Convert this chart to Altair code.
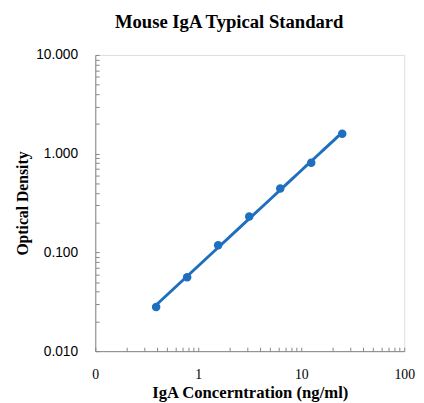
import altair as alt
import pandas as pd

# Data
conc = [0.39, 0.78, 1.56, 3.125, 6.25, 12.5, 25]
od = [0.028, 0.056, 0.118, 0.231, 0.443, 0.81, 1.59]

x_ticks = [0.1, 0.2, 0.3, 0.4, 0.5, 0.6, 0.7, 0.8, 0.9,
           1, 2, 3, 4, 5, 6, 7, 8, 9,
           10, 20, 30, 40, 50, 60, 70, 80, 90, 100]
y_ticks = [0.01, 0.02, 0.03, 0.04, 0.05, 0.06, 0.07, 0.08, 0.09,
           0.1, 0.2, 0.3, 0.4, 0.5, 0.6, 0.7, 0.8, 0.9,
           1, 2, 3, 4, 5, 6, 7, 8, 9, 10]
x_major = [0.1, 1, 10, 100]
x_major_text = ["0", "1", "10", "100"]
y_major = [0.01, 0.1, 1, 10]

df = pd.DataFrame({"conc": conc, "od": od})

blue = "#1f6fbf"
axis_gray = "#868686"
serif = "Liberation Serif"
sans = "Liberation Sans"

xscale = alt.Scale(type="log", domain=[0.1, 100])
yscale = alt.Scale(type="log", domain=[0.01, 10])

x_label_expr = " : ".join(
    f"datum.value == {v} ? '{t}'" for v, t in zip(x_major, x_major_text)
) + " : ''"
y_label_expr = (
    "indexof([" + ",".join(str(v) for v in y_major) + "], datum.value) >= 0 ? "
    "format(datum.value, '.3f') : ''"
)

base = alt.Chart(df)

# Layer with tick/label axes (ticks drawn inward via negative offset)
points = base.mark_circle(size=75, color=blue, opacity=1).encode(
    x=alt.X(
        "conc:Q",
        scale=xscale,
        axis=alt.Axis(
            orient="bottom", values=x_ticks, labelExpr=x_label_expr,
            domain=False, offset=-4, tickSize=4, tickColor=axis_gray,
            grid=False, title=None, labelPadding=17, labelFont=serif,
            labelFontSize=14, labelColor="#000", labelOverlap=False,
            labelFlush=False,
        ),
    ),
    y=alt.Y(
        "od:Q",
        scale=yscale,
        axis=alt.Axis(
            orient="left", values=y_ticks, labelExpr=y_label_expr,
            domain=False, offset=-4, tickSize=4, tickColor=axis_gray,
            grid=False, title=None, labelPadding=18, labelFont=sans,
            labelFontSize=14, labelColor="#000", labelOverlap=False,
            labelFlush=False,
        ),
    ),
)

# Power-law trend line with domain-only axes and titles
line = base.transform_regression(
    "conc", "od", method="pow"
).mark_line(color=blue, strokeWidth=3).encode(
    x=alt.X(
        "conc:Q",
        scale=xscale,
        axis=alt.Axis(
            orient="bottom", domain=True, domainColor=axis_gray, ticks=False,
            labels=False, grid=False, title="IgA Concerntration (ng/ml)",
            titleFont=serif, titleFontSize=17, titleFontWeight="bold",
            titleColor="#000", titlePadding=34,
        ),
    ),
    y=alt.Y(
        "od:Q",
        scale=yscale,
        axis=alt.Axis(
            orient="left", domain=True, domainColor=axis_gray, ticks=False,
            labels=False, grid=False, title="Optical Density",
            titleFont=serif, titleFontSize=16, titleFontWeight="bold",
            titleColor="#000", titlePadding=66,
        ),
    ),
)

chart = alt.layer(line, points).resolve_axis(
    x="independent", y="independent"
).properties(
    width=315,
    height=302,
    autosize=alt.AutoSizeParams(type="none"),
    padding={"left": 89, "top": 44, "right": 12, "bottom": 49},
    title=alt.TitleParams(
        "Mouse IgA Typical Standard", font=serif, fontSize=19,
        fontWeight="bold", color="#000", anchor="middle", dx=-21,
        offset=16,
    ),
).configure_view(stroke=None).configure(background="white")

chart.save("out.html", embed_options={"renderer": "svg", "actions": False})
